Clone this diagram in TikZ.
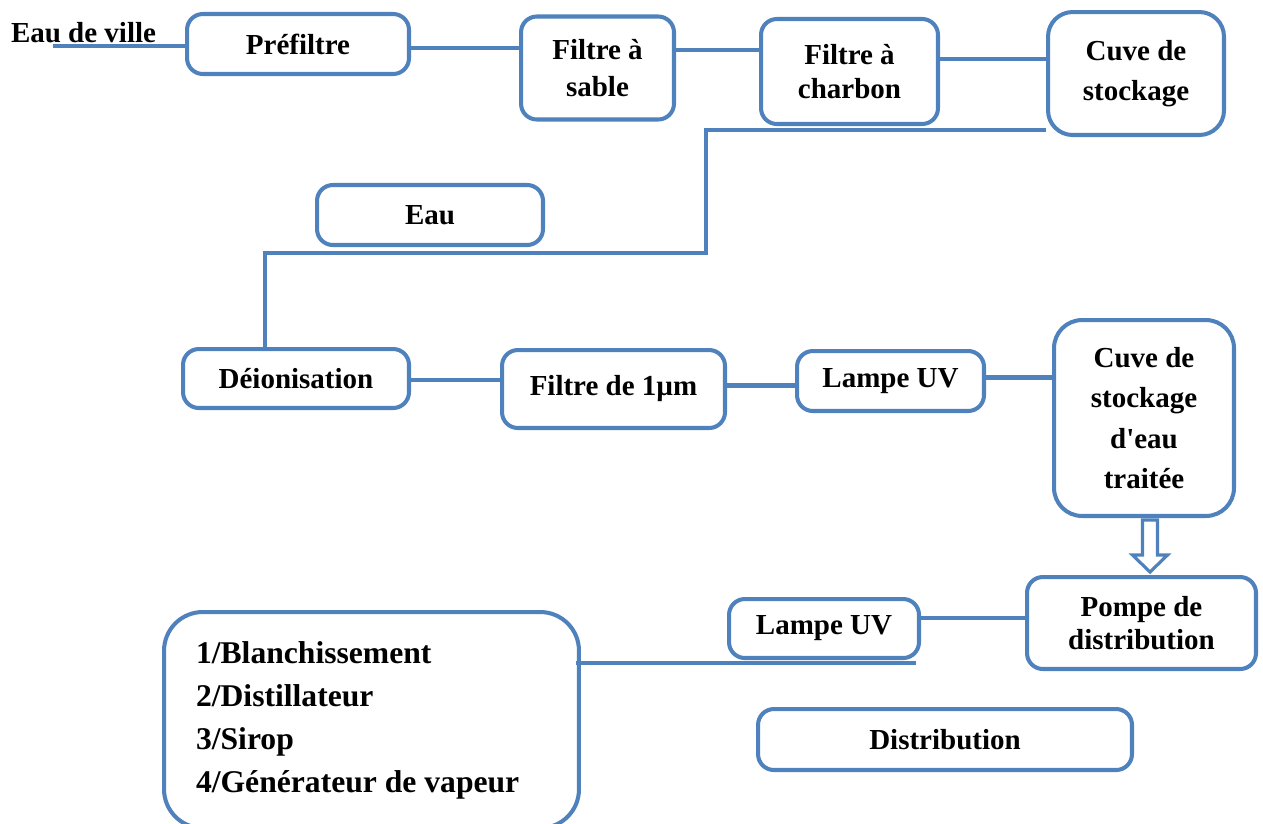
\documentclass[tikz,border=0pt]{standalone}
\usepackage{fontspec}
\setmainfont{Liberation Serif}
\definecolor{bleu}{RGB}{79,129,189}
\tikzset{
	boite/.style={draw=bleu, line width=2.3pt, rounded corners=9pt, fill=white, align=center, inner sep=0pt, font=\bfseries\fontsize{16.5}{21}\selectfont},
	ligne/.style={draw=bleu, line width=2.3pt},
}
\begin{document}
\begin{tikzpicture}[x=0.02cm, y=-0.02cm]
			\clip (0,0) rectangle (1263,823);
			% Premiere ligne
				\node[font=\bfseries\fontsize{16.5}{21}\selectfont] (ville) at (83.5,33) {Eau de ville};
				\coordinate (entree) at (53,46);
				\node[boite, minimum width=4.44cm, minimum height=1.2cm] (prefiltre) at (298,44) {Préfiltre};
				\node[boite, minimum width=3.06cm, minimum height=2.06cm] (sable) at (597.5,68) {Filtre à\\sable};
				\node[boite, minimum width=3.54cm, minimum height=2.1cm, font=\bfseries\fontsize{16.5}{19.5}\selectfont] (charbon) at (849.5,71.5) {Filtre à\\charbon};
				\node[boite, rounded corners=14pt, minimum width=3.52cm, minimum height=2.46cm, font=\bfseries\fontsize{16.5}{23}\selectfont] (cuve) at (1136,73.5) {Cuve de\\stockage};
			
			% Eau
				\node[boite, minimum width=4.52cm, minimum height=1.2cm] (eau) at (430,215) {Eau};
				\coordinate (montee) at (706,253);
				\coordinate (coude) at (265,253);
			
			% Deuxieme ligne
				\node[boite, minimum width=4.52cm, minimum height=1.18cm] (deion) at (296,378.5) {Déionisation};
				\node[boite, minimum width=4.46cm, minimum height=1.56cm] (filtre) at (613.5,389) {Filtre de 1µm};
				\node[boite, minimum width=3.74cm, minimum height=1.2cm] (lampe) at (890.5,381) {Lampe UV};
				\node[boite, rounded corners=16pt, minimum width=3.6cm, minimum height=3.92cm, font=\bfseries\fontsize{16.5}{23}\selectfont] (traitee) at (1144,418) {Cuve de\\stockage\\d\textquotesingle eau\\traitée};
			
			% Troisieme ligne
				\node[boite, minimum width=4.58cm, minimum height=1.84cm, font=\bfseries\fontsize{16.5}{19}\selectfont] (pompe) at (1141.5,623) {Pompe de\\distribution};
				\node[boite, minimum width=3.8cm, minimum height=1.18cm] (lampe2) at (824,628.5) {Lampe UV};
				\node[boite, minimum width=7.48cm, minimum height=1.22cm] (distrib) at (945,739.5) {Distribution};
				\node[boite, rounded corners=22pt, minimum width=8.3cm, minimum height=4.32cm, text width=7.02cm, align=flush left, font=\bfseries\fontsize{18}{24.5}\selectfont] (usages) at (371.5,720) {1/Blanchissement\\2/Distillateur\\3/Sirop\\4/Générateur de vapeur};
			
			% Liaisons
				\draw[ligne] (entree) -- (entree -| prefiltre.west);
				\draw[ligne] ([yshift=-2pt]prefiltre.east) -- ([yshift=-2pt]prefiltre.east -| sable.west);
				\draw[ligne] ([yshift=10pt]sable.east) -- ([yshift=10pt]sable.east -| charbon.west);
				\draw[ligne] ([yshift=7pt]charbon.east) -- ([yshift=7pt]charbon.east -| cuve.west);
				\draw[ligne] ([yshift=4pt]cuve.south west) -| (montee) -- (coude) -- (coude |- deion.north);
				\draw[ligne] ([yshift=-1pt]deion.east) -- ([yshift=-1pt]deion.east -| filtre.west);
				\draw[ligne] ([yshift=2pt]filtre.east) -- ([yshift=2pt]filtre.east -| lampe.west);
				\draw[ligne] ([yshift=2pt]lampe.east) -- ([yshift=2pt]lampe.east -| traitee.west);
				\draw[ligne] ([yshift=3pt]pompe.west) -- ([yshift=3pt]pompe.west -| lampe2.east);
				\draw[ligne] ([xshift=-3pt,yshift=-1.5pt]lampe2.south east) -- ([xshift=-3pt,yshift=-1.5pt]lampe2.south east -| usages.east);
			
			% Fleche
				\begin{scope}[shift={(traitee.south)}, xshift=6*0.02cm]
					\draw[bleu, line width=1.8pt, fill=white] (-7.5,2) -- (7.5,2) -- (7.5,37) -- (17.5,37) -- (0,54) -- (-17.5,37) -- (-7.5,37) -- cycle;
				\end{scope}
		\end{tikzpicture}
\end{document}
